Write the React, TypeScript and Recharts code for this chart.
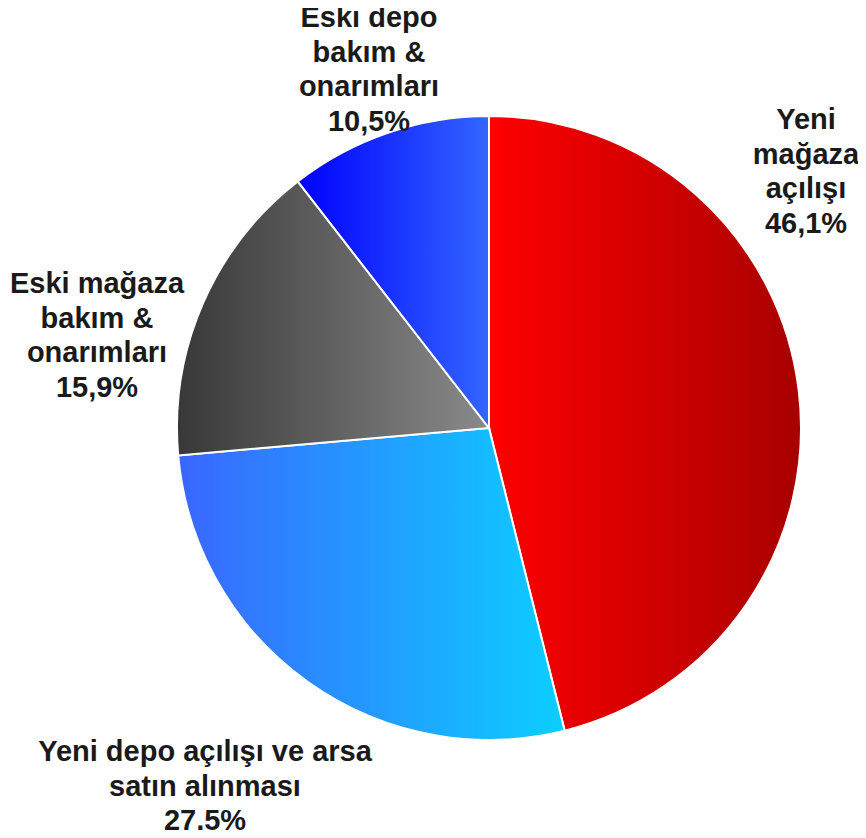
import { PieChart, Pie, Cell } from 'recharts';

// Categories and shares (%)
const categories = [
    ['Yeni', 'mağaza', 'açılışı'],
    ['Yeni depo açılışı ve arsa', 'satın alınması'],
    ['Eski mağaza', 'bakım &', 'onarımları'],
    ['Eski depo', 'bakım &', 'onarımları'],
];
const shares = [46.1, 27.5, 15.9, 10.5];
const percentLabels = ['46,1%', '27,5%', '15,9%', '10,5%'];

const data = shares.map((value, i) => ({ name: categories[i].join(' '), value }));

// left -> right colours of each slice gradient
const gradients = [
    ['#ff0000', '#a80000'],
    ['#3a66ff', '#0ccfff'],
    ['#383838', '#8a8a8a'],
    ['#0000ff', '#3366ff'],
];

// label anchor (centre x, first baseline) relative to the pie centre
const labelAnchors = [
    { dx: 317, dy: -299 },
    { dx: -284, dy: 333 },
    { dx: -392, dy: -135 },
    { dx: -120, dy: -401 },
];

const LINE = 34.7;

function SliceLabel(props: any) {
    const { cx, cy, index } = props;
    const a = labelAnchors[index];
    const lines = [...categories[index], percentLabels[index]];
    return (
        <text
            x={cx + a.dx}
            y={cy + a.dy}
            textAnchor="middle"
            fill="#1a1a1a"
            fontSize={29}
            fontWeight="bold"
            fontFamily="'Liberation Sans', Arial, sans-serif"
        >
            {lines.map((l, i) => (
                <tspan key={i} x={cx + a.dx} dy={i === 0 ? 0 : LINE}>{l}</tspan>
            ))}
        </text>
    );
}

export default function App() {
    return (
        <div style={{ margin: -8, width: 866, height: 838 }}>
            <PieChart width={866} height={838} margin={{ top: 0, right: 0, left: 0, bottom: 0 }}>
                <defs>
                    {gradients.map((g, i) => (
                        <linearGradient key={i} id={`slice${i}`} x1="0" y1="0" x2="1" y2="0">
                            <stop offset="0%" stopColor={g[0]} />
                            <stop offset="100%" stopColor={g[1]} />
                        </linearGradient>
                    ))}
                </defs>
                <Pie
                    data={data}
                    dataKey="value"
                    cx={489}
                    cy={428}
                    outerRadius={312}
                    startAngle={90}
                    endAngle={-270}
                    stroke="#ffffff"
                    strokeWidth={2}
                    label={<SliceLabel />}
                    labelLine={false}
                    isAnimationActive={false}
                >
                    {data.map((_, i) => (
                        <Cell key={i} fill={`url(#slice${i})`} />
                    ))}
                </Pie>
            </PieChart>
        </div>
    );
}
